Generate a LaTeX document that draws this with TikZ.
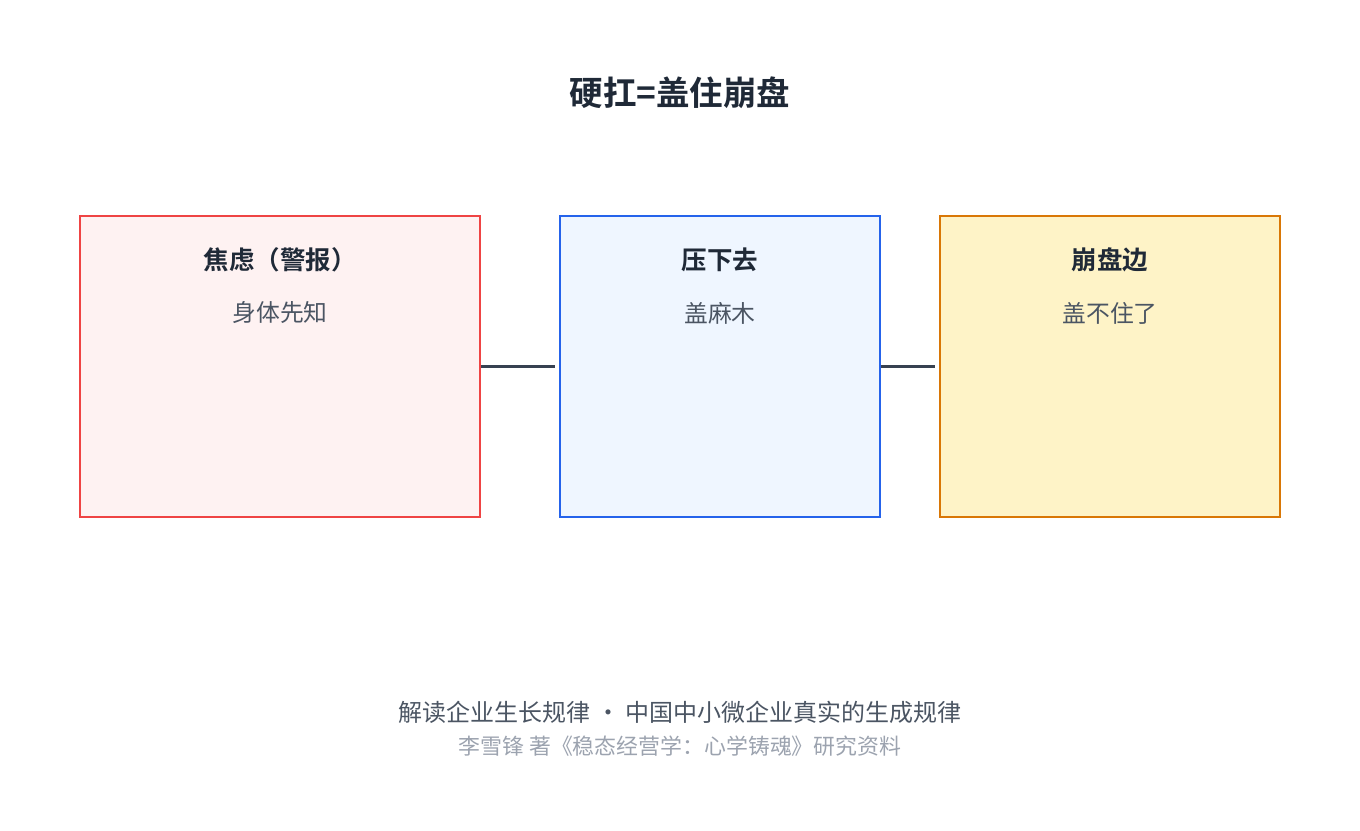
\documentclass[tikz,border=0pt]{standalone}
\usepackage{fontspec}
\setmainfont{Noto Sans CJK SC}
\newfontfamily\cjkb{Noto Sans CJK SC Bold}
\definecolor{dark}{HTML}{1F2937}
\definecolor{sub}{HTML}{4B5563}
\definecolor{light}{HTML}{9CA3AF}
\definecolor{conn}{HTML}{374151}
\definecolor{rb}{HTML}{EF4444}\definecolor{rf}{HTML}{FEF2F2}
\definecolor{bb}{HTML}{2563EB}\definecolor{bf}{HTML}{EFF6FF}
\definecolor{ob}{HTML}{D97706}\definecolor{of}{HTML}{FEF3C7}
\begin{document}
\begin{tikzpicture}[x=1pt,y=-1pt,
 box/.style={draw,line width=2.5pt,inner sep=0pt},
 ttl/.style={text=dark,font=\cjkb\fontsize{25.5}{28}\selectfont},
 st/.style={text=sub,font=\fontsize{23.8}{26}\selectfont},
 conn/.style={draw=conn,line width=3pt}]
\useasboundingbox (0,0) rectangle (1360,830);
\node[box,draw=rb,fill=rf,minimum width=400pt,minimum height=301pt] (a) at (280,366.5) {};
\node[box,draw=bb,fill=bf,minimum width=320pt,minimum height=301pt] (b) at (720,366.5) {};
\node[box,draw=ob,fill=of,minimum width=340pt,minimum height=301pt] (c) at (1110,366.5) {};
\node[text=dark,font=\cjkb\fontsize{33.5}{36}\selectfont] (t) at (680,93) {硬扛=盖住崩盘};
\node[ttl] (a1) at (280,260) {焦虑（警报）};
\node[st] (a2) at (280,313) {身体先知};
\node[ttl] (b1) at (720,260) {压下去};
\node[st] (b2) at (720,313) {盖麻木};
\node[ttl] (c1) at (1110,260) {崩盘边};
\node[st] (c2) at (1110,313) {盖不住了};
\draw[conn,shorten >=4pt] (a.east) -- (b.west);
\draw[conn,shorten >=4pt] (b.east) -- (c.west);
\node[text=sub,font=\fontsize{24}{26}\selectfont] (f1) at (680,712) {解读企业生长规律 · 中国中小微企业真实的生成规律};
\node[text=light,font=\fontsize{21.9}{24}\selectfont] (f2) at (680,746) {李雪锋 著《稳态经营学：心学铸魂》研究资料};
\end{tikzpicture}
\end{document}
